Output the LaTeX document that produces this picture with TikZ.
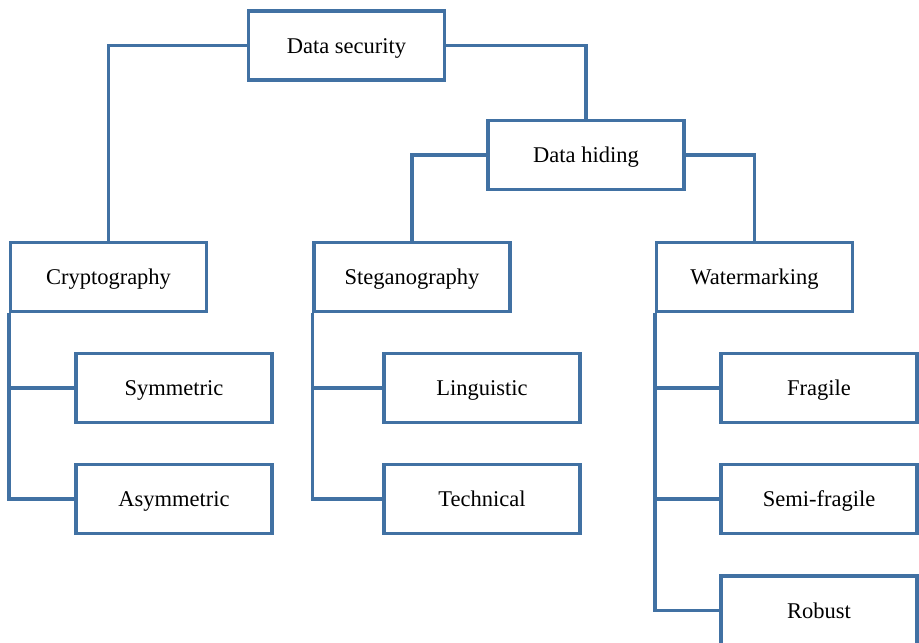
\documentclass[tikz,border=0pt]{standalone}
\usepackage{fontspec}
\setmainfont{Liberation Serif}
\definecolor{linkblue}{RGB}{65,113,163}
\begin{document}
\begin{tikzpicture}[x=1pt,y=-1pt,
  box/.style={draw=linkblue, line width=3.4pt, fill=white, rectangle,
    minimum width=196pt, minimum height=69pt, inner sep=0pt,
    text height=15pt, text depth=0pt,
    font=\fontsize{22.5}{27}\selectfont},
  link/.style={draw=linkblue, line width=3.4pt}]
\useasboundingbox (0,0) rectangle (919,643);
\clip (0,0) rectangle (919,643);
% top levels
\node[box] (ds) at (346.5,45.5) {Data security};
\node[box] (dh) at (586,155) {Data hiding};
% second level
\node[box] (cr) at (108.5,277) {Cryptography};
\node[box] (st) at (412,277) {Steganography};
\node[box] (wm) at (754.5,277) {Watermarking};
% leaves
\node[box] (sym) at (174,388) {Symmetric};
\node[box] (asy) at (174,499) {Asymmetric};
\node[box] (lin) at (482,388) {Linguistic};
\node[box] (tec) at (482,499) {Technical};
\node[box] (fra) at (819,388) {Fragile};
\node[box] (semi) at (819,499) {Semi-fragile};
\node[box] (rob) at (819,610.5) {Robust};
% tree connectors
\draw[link] (ds.west) -| (cr.north);
\draw[link] (ds.east) -| (dh.north);
\draw[link] (dh.west) -| (st.north);
\draw[link] (dh.east) -| (wm.north);
\draw[link] (cr.south west) |- (sym.west);
\draw[link] (cr.south west) |- (asy.west);
\draw[link] (st.south west) |- (lin.west);
\draw[link] (st.south west) |- (tec.west);
\draw[link] (wm.south west) |- (fra.west);
\draw[link] (wm.south west) |- (semi.west);
\draw[link] (wm.south west) |- (rob.west);
\end{tikzpicture}
\end{document}
